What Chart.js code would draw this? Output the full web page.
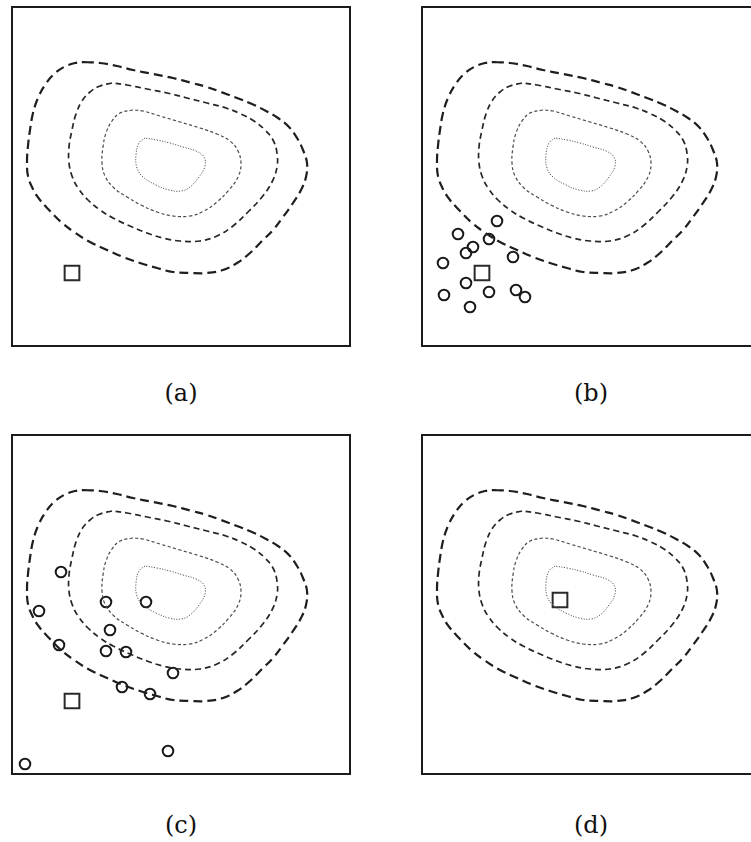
<!DOCTYPE html>
<html>
<head>
<meta charset="utf-8">
<script src="https://cdn.jsdelivr.net/npm/chart.js@4/dist/chart.umd.min.js"></script>
<style>
  html, body { margin: 0; padding: 0; background: #fff; }
  #page { position: relative; width: 751px; height: 842px; overflow: hidden; background: #fff; }
  canvas { position: absolute; }
  .cap { position: absolute; width: 80px; margin-left: -40px; text-align: center;
         font-family: "DejaVu Serif", serif; font-size: 24px; color: #111; line-height: 1; }
</style>
</head>
<body>
<div id="page"></div>
<script>
// Level curves of the objective (same in every panel), box units: x 0..338, y 0..339 (y grows downward)
const contourOuter = [
  [73,55],[88,56],[105,59],[121,63],[141,67],[161,71],[180,76],[195,80],[209,85],[225,91],
  [240,97],[254,104],[266,111],[277,120],[285,131],[291,143],[295,156],[294,170],[289,183],
  [281,196],[271,210],[261,223],[250,234],[238,246],[225,256],[211,263],[195,266],[178,266],
  [161,265],[145,261],[128,256],[111,250],[95,243],[78,235],[62,225],[49,215],[38,204],
  [28,193],[21,182],[16,169],[15,154],[16,139],[18,123],[21,106],[26,91],[33,78],[41,68],
  [52,60],[63,56],[73,55]
];
const contourSecond = [
  [100,76],[88,79],[78,85],[70,94],[64,107],[60,123],[57,140],[57,156],[60,169],[66,181],
  [76,193],[88,203],[101,211],[118,219],[135,226],[151,231],[168,234],[188,234],[205,229],
  [221,219],[236,205],[250,190],[260,175],[265,160],[265,146],[261,133],[253,123],[242,114],
  [229,107],[214,101],[195,96],[175,91],[155,86],[135,82],[115,78],[100,76]
];
const contourThird = [
  [121,103],[108,106],[100,114],[94,126],[91,140],[90,156],[93,169],[102,181],[115,190],
  [129,198],[145,205],[161,209],[178,209],[192,204],[205,195],[217,183],[226,170],[229,157],
  [226,144],[218,134],[205,127],[188,121],[168,115],[148,109],[131,104],[121,103]
];
const contourInner = [
  [133,131],[127,136],[124,148],[125,161],[131,170],[144,178],[157,183],[169,184],[178,180],
  [187,170],[193,159],[192,150],[184,144],[171,140],[158,136],[145,133],[133,131]
];

// Current point (square) and sampled candidates (circles) per panel
const squareA = [[60,266]];
const squareB = [[60,266]];
const circlesB = [
  [75,214],[36,227],[67,232],[51,240],[44,246],[21,256],[91,250],
  [44,276],[67,285],[94,283],[103,290],[22,288],[48,300]
];
const squareC = [[60,266]];
const circlesC = [
  [49,137],[27,176],[94,167],[134,167],[47,210],[98,195],[94,216],
  [114,217],[161,238],[110,252],[138,259],[156,316],[13,329]
];
const squareD = [[138,165]];

const panelLabels = ['(a)', '(b)', '(c)', '(d)'];

// Panel placement on the page
const BOX_W = 338, BOX_H = 339, PAD = 4;
const panels = [
  { left: 12,  top: 7,   label: panelLabels[0], square: squareA, circles: [],        capY: 381 },
  { left: 422, top: 7,   label: panelLabels[1], square: squareB, circles: circlesB,  capY: 381 },
  { left: 12,  top: 435, label: panelLabels[2], square: squareC, circles: circlesC,  capY: 813 },
  { left: 422, top: 435, label: panelLabels[3], square: squareD, circles: [],        capY: 813 }
];

const toXY = arr => arr.map(p => ({ x: p[0], y: p[1] }));

const frame = {
  id: 'frame',
  afterDraw(chart) {
    const { ctx, chartArea: a } = chart;
    ctx.save();
    ctx.strokeStyle = '#1c1c1c';
    ctx.lineWidth = 2;
    ctx.strokeRect(a.left, a.top, a.right - a.left, a.bottom - a.top);
    ctx.restore();
  }
};

function contourSet(points, width, color, dash) {
  return {
    data: toXY(points), showLine: true, fill: false, pointRadius: 0, pointHoverRadius: 0,
    borderColor: color, borderWidth: width, borderDash: dash, tension: 0.4,
    borderCapStyle: 'butt'
  };
}

const page = document.getElementById('page');
panels.forEach(p => {
  const cv = document.createElement('canvas');
  cv.width = BOX_W + 2 * PAD;
  cv.height = BOX_H + 2 * PAD;
  cv.style.left = (p.left - PAD) + 'px';
  cv.style.top = (p.top - PAD) + 'px';
  page.appendChild(cv);

  const datasets = [
    contourSet(contourOuter, 2.2, '#1e1e1e', [9, 5]),
    contourSet(contourSecond, 1.7, '#262626', [6, 4]),
    contourSet(contourThird, 1.2, '#4a4a4a', [3.2, 2.4]),
    contourSet(contourInner, 1.0, '#5a5a5a', [1.2, 1.5]),
    {
      data: toXY(p.circles), showLine: false, pointStyle: 'circle', pointRadius: 5.3,
      pointBorderWidth: 2, pointBorderColor: '#1a1a1a', pointBackgroundColor: 'rgba(0,0,0,0)'
    },
    {
      data: toXY(p.square), showLine: false, pointStyle: 'rect', pointRadius: 10.4,
      pointBorderWidth: 2, pointBorderColor: '#2a2a2a', pointBackgroundColor: 'rgba(0,0,0,0)'
    }
  ];

  new Chart(cv, {
    type: 'scatter',
    data: { datasets },
    options: {
      responsive: false, animation: false, devicePixelRatio: 1,
      layout: { padding: PAD, autoPadding: false },
      plugins: { legend: { display: false }, tooltip: { enabled: false } },
      events: [],
      scales: {
        x: { type: 'linear', min: 0, max: BOX_W, display: false },
        y: { type: 'linear', min: 0, max: BOX_H, reverse: true, display: false }
      }
    },
    plugins: [frame]
  });

  const cap = document.createElement('div');
  cap.className = 'cap';
  cap.textContent = p.label;
  cap.style.left = (p.left + BOX_W / 2) + 'px';
  cap.style.top = p.capY + 'px';
  page.appendChild(cap);
});
</script>
</body>
</html>
